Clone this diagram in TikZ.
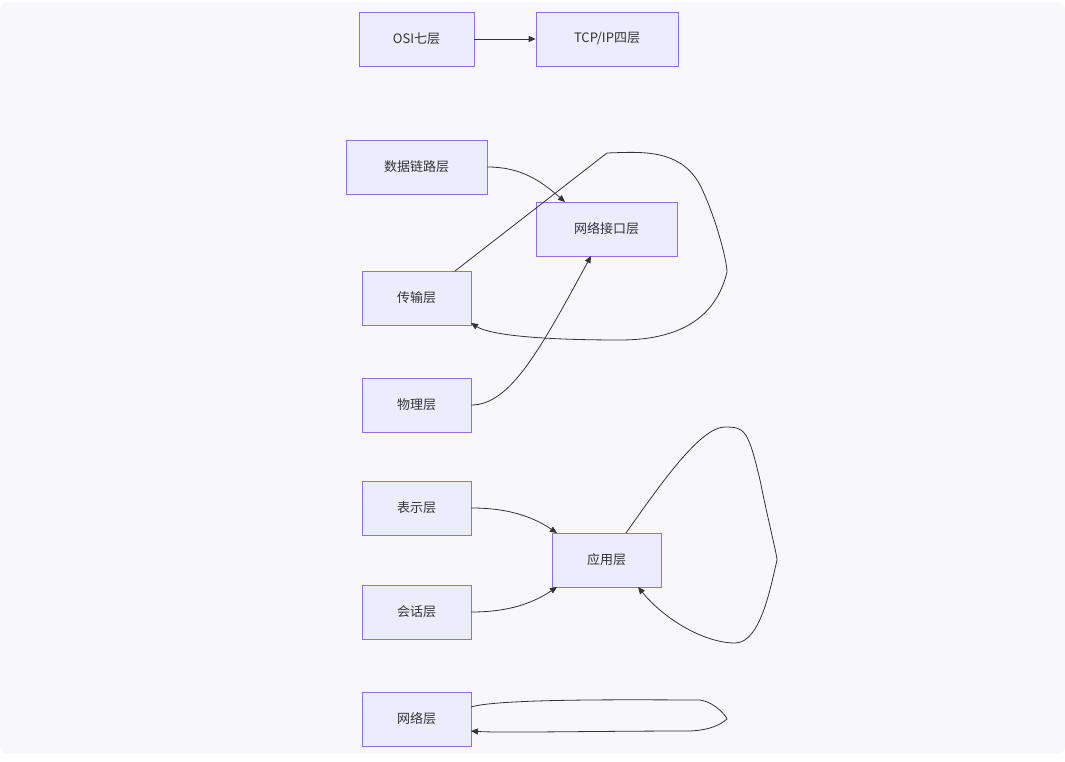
\documentclass[tikz,border=0pt]{standalone}
\usepackage{fontspec}
\setmainfont{Noto Sans CJK SC}
\usetikzlibrary{arrows.meta}
\definecolor{nfill}{HTML}{ECECFF}
\definecolor{nline}{HTML}{9370DB}
\definecolor{bg}{HTML}{F8F8FA}
\definecolor{ed}{HTML}{333333}
\begin{document}
\begin{tikzpicture}[x=1pt,y=-1pt,
  box/.style={draw=nline,fill=nfill,line width=0.8pt,inner sep=0pt,font=\fontsize{13}{15}\selectfont,text=ed},
  e/.style={draw=ed,line width=0.8pt,-{Triangle[length=7pt,width=6pt]}},
  l/.style={draw=ed,line width=0.8pt}]
\useasboundingbox (0,0) rectangle (1065,762);
\fill[white] (0,0) rectangle (1065,762);
\fill[bg,rounded corners=8pt] (0,2) rectangle (1065,754);
\node[box,minimum width=115pt,minimum height=54pt] (osi) at (416.5,39) {OSI七层};
\node[box,minimum width=142pt,minimum height=54pt] (tcp) at (607,39) {TCP/IP四层};
\node[box,minimum width=141pt,minimum height=54pt] (dl) at (416.5,167) {数据链路层};
\node[box,minimum width=141pt,minimum height=54pt] (ni) at (606.5,229) {网络接口层};
\node[box,minimum width=109pt,minimum height=54pt] (tr) at (416.5,298) {传输层};
\node[box,minimum width=109pt,minimum height=54pt] (ph) at (416.5,405) {物理层};
\node[box,minimum width=109pt,minimum height=54pt] (pr) at (416.5,508) {表示层};
\node[box,minimum width=109pt,minimum height=54pt] (ap) at (606.5,560) {应用层};
\node[box,minimum width=109pt,minimum height=54pt] (se) at (416.5,612) {会话层};
\node[box,minimum width=109pt,minimum height=54pt] (nw) at (416.5,719) {网络层};
\draw[e] (osi) -- (tcp);
\draw[e] (dl.east) .. controls (520,167) and (540,180) .. (565,202);
\draw[e] (455,271) -- (607,153) .. controls (640,152) and (680,148) .. (700,185) .. controls (715,215) and (727,260) .. (727,272) .. controls (720,300) and (700,340) .. (620,340) .. controls (540,340) and (490,335) .. (471,323);
\draw[e] (ph.east) .. controls (510,405) and (540,350) .. (591,256);
\draw[e] (pr.east) .. controls (505,508) and (530,515) .. (557,533);
\draw[e] (se.east) .. controls (505,612) and (530,605) .. (557,587);
\draw[e] (626,533) .. controls (660,485) and (700,427) .. (725,427) .. controls (745,427) and (748,430) .. (760,480) .. controls (768,520) and (777,555) .. (777,560) .. controls (770,590) and (760,643) .. (735,643) .. controls (705,643) and (665,620) .. (638,587);
\draw[e] (471,707) .. controls (500,698) and (650,700) .. (700,700) .. controls (715,702) and (727,717) .. (727,719) .. controls (720,725) and (710,730) .. (690,731) .. controls (600,731) and (500,733) .. (471,731);
\end{tikzpicture}
\end{document}
